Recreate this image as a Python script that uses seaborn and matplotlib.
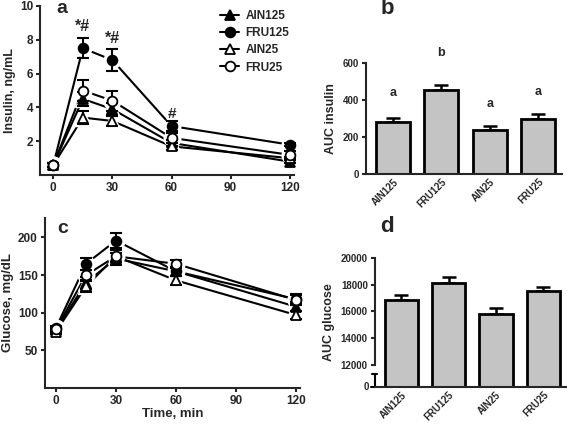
import pandas as pd
import numpy as np
import matplotlib.pyplot as plt
from matplotlib.lines import Line2D
import seaborn as sns

# data
times = [0, 15, 30, 60, 120]
groups = ['AIN125', 'FRU125', 'AIN25', 'FRU25']

ins_ain125 = [0.6, 4.5, 3.9, 1.9, 0.8]
ins_fru125 = [0.6, 7.5, 6.8, 2.9, 1.8]
ins_ain25 = [0.6, 3.4, 3.2, 1.7, 1.0]
ins_fru25 = [0.6, 5.0, 4.4, 2.2, 1.2]
ins_err_ain125 = [0.1, 0.4, 0.35, 0.2, 0.1]
ins_err_fru125 = [0.1, 0.6, 0.65, 0.3, 0.1]
ins_err_ain25 = [0.1, 0.4, 0.3, 0.2, 0.1]
ins_err_fru25 = [0.1, 0.6, 0.6, 0.3, 0.2]

glu_ain125 = [77, 140, 172, 155, 108]
glu_fru125 = [80, 165, 196, 155, 118]
glu_ain25 = [75, 135, 175, 143, 97]
glu_fru25 = [78, 150, 175, 165, 117]
glu_err_ain125 = [3, 8, 8, 6, 6]
glu_err_fru125 = [3, 8, 10, 6, 7]
glu_err_ain25 = [3, 7, 8, 6, 5]
glu_err_fru25 = [3, 7, 8, 5, 7]

auc_ins = [280, 452, 237, 298]
auc_ins_err = [25, 28, 20, 28]
auc_ins_letters = ['a', 'b', 'a', 'a']
auc_ins_letter_y = [438, 654, 378, 443]

auc_glu = [16850, 18150, 15850, 17500]
auc_glu_err = [400, 450, 400, 300]

insulin = [ins_ain125, ins_fru125, ins_ain25, ins_fru25]
insulin_err = [ins_err_ain125, ins_err_fru125, ins_err_ain25, ins_err_fru25]
glucose = [glu_ain125, glu_fru125, glu_ain25, glu_fru25]
glucose_err = [glu_err_ain125, glu_err_fru125, glu_err_ain25, glu_err_fru25]

# marker style per group
markers = {'AIN125': ('^', 'black'), 'FRU125': ('o', 'black'),
           'AIN25': ('^', 'white'), 'FRU25': ('o', 'white')}

sns.set_style('ticks')
plt.rcParams['font.family'] = ['Liberation Sans', 'DejaVu Sans']
plt.rcParams['font.weight'] = 'bold'
plt.rcParams['axes.labelweight'] = 'bold'
plt.rcParams['axes.linewidth'] = 1.5
plt.rcParams['xtick.major.width'] = 1.5
plt.rcParams['ytick.major.width'] = 1.5
plt.rcParams['xtick.major.size'] = 3
plt.rcParams['ytick.major.size'] = 3
plt.rcParams['xtick.major.pad'] = 2
plt.rcParams['ytick.major.pad'] = 2
plt.rcParams['xtick.labelsize'] = 8.5
plt.rcParams['ytick.labelsize'] = 8.5

fig = plt.figure(figsize=(5.67, 4.24), dpi=100)
ax_a = fig.add_axes([0.071, 0.587, 0.447, 0.399])
ax_b = fig.add_axes([0.645, 0.590, 0.347, 0.261])
ax_c = fig.add_axes([0.079, 0.085, 0.450, 0.401])
ax_d = fig.add_axes([0.661, 0.087, 0.339, 0.305])


def time_panel(ax, values, errors):
    rows = []
    for g, vals in zip(groups, values):
        for t, v in zip(times, vals):
            rows.append({'time': t, 'value': v, 'group': g})
    df = pd.DataFrame(rows)
    sns.lineplot(data=df, x='time', y='value', hue='group', palette=['black'] * 4,
                 legend=False, linewidth=1.5, ax=ax, zorder=1)
    # white halos to give the gaps around the points
    for g, vals in zip(groups, values):
        m, fc = markers[g]
        ax.plot(times, vals, linestyle='none', marker=m, markersize=12,
                color='white', zorder=2, clip_on=False)
    for g, vals, errs in zip(groups, values, errors):
        m, fc = markers[g]
        ax.errorbar(times, vals, yerr=errs, fmt='none', ecolor='black',
                    elinewidth=1.5, capsize=4, capthick=1.5, zorder=3, clip_on=False)
        ax.plot(times, vals, linestyle='none', marker=m, markersize=7,
                markerfacecolor=fc, markeredgecolor='black', markeredgewidth=1.3,
                zorder=4, clip_on=False)
    ax.set_xticks([0, 30, 60, 90, 120])
    sns.despine(ax=ax)


# panel a
time_panel(ax_a, insulin, insulin_err)
ax_a.set_xlim(-6.6, 122)
ax_a.set_ylim(0, 10)
ax_a.set_yticks([2, 4, 6, 8, 10])
ax_a.set_xlabel('')
ax_a.set_ylabel('Insulin, ng/mL', fontsize=9, labelpad=3)
ax_a.text(15, 8.8, '*#', ha='center', va='center', fontsize=11.5, fontweight='bold')
ax_a.text(30, 8.1, '*#', ha='center', va='center', fontsize=11.5, fontweight='bold')
ax_a.text(60, 3.6, '#', ha='center', va='center', fontsize=11, fontweight='bold')
ax_a.text(0.085, 0.985, 'a', transform=ax_a.transAxes, ha='center', va='center',
          fontsize=14, fontweight='bold')
handles = []
for g in groups:
    m, fc = markers[g]
    handles.append(Line2D([], [], color='black', linewidth=1.5, marker=m, markersize=7,
                          markerfacecolor=fc, markeredgecolor='black', markeredgewidth=1.3))
ax_a.legend(handles, groups, loc='upper right', frameon=False, fontsize=8.5,
            handlelength=1.6, handletextpad=0.5, labelspacing=0.45,
            bbox_to_anchor=(1.01, 1.02), borderaxespad=0.2)

# panel c
time_panel(ax_c, glucose, glucose_err)
ax_c.set_xlim(-5.6, 122)
ax_c.set_ylim(0, 226)
ax_c.set_yticks([50, 100, 150, 200])
ax_c.set_xlabel('Time, min', fontsize=9.5, labelpad=1)
ax_c.set_ylabel('Glucose, mg/dL', fontsize=9.5, labelpad=3)
ax_c.text(0.07, 0.94, 'c', transform=ax_c.transAxes, ha='center', va='center',
          fontsize=14, fontweight='bold')


def bar_panel(ax, vals, errs):
    sns.barplot(x=groups, y=vals, color='#c4c4c4', edgecolor='black', linewidth=2,
                width=0.7, ax=ax, zorder=2)
    ax.errorbar(range(len(groups)), vals, yerr=[np.zeros(len(errs)), errs], fmt='none',
                ecolor='black', elinewidth=1.8, capsize=5, capthick=1.8, zorder=1)
    ax.set_xlim(-0.56, 3.5)
    ax.tick_params(axis='x', labelsize=7, length=0)
    plt.setp(ax.get_xticklabels(), rotation=45, ha='right', rotation_mode='anchor',
             fontweight='bold')
    sns.despine(ax=ax)


# panel b
bar_panel(ax_b, auc_ins, auc_ins_err)
ax_b.set_ylim(0, 600)
ax_b.set_yticks([0, 200, 400, 600])
ax_b.set_ylabel('AUC insulin', fontsize=9, labelpad=4)
ax_b.tick_params(axis='y', labelsize=7)
for i, (lt, ly) in enumerate(zip(auc_ins_letters, auc_ins_letter_y)):
    ax_b.text(i, ly, lt, ha='center', va='center', fontsize=9, fontweight='bold',
              clip_on=False)
fig.text(387 / 567, 1 - 9 / 424, 'b', ha='center', va='center', fontsize=16,
         fontweight='bold')

# panel d (broken axis)
bar_panel(ax_d, auc_glu, auc_glu_err)
d_bottom = 10360
ax_d.set_ylim(d_bottom, 20005)
ax_d.set_yticks([12000, 14000, 16000, 18000, 20000])
ax_d.tick_params(axis='y', labelsize=7)
ax_d.spines['left'].set_bounds(12000, 20000)
ytr = ax_d.get_yaxis_transform()
# short lower axis piece with its own "0" tick
ax_d.plot([0, 0], [d_bottom, 11330], color='black', linewidth=1.5, transform=ytr,
          clip_on=False)
ax_d.plot([-0.012, 0.012], [11330, 11330], color='black', linewidth=1.5, transform=ytr,
          clip_on=False)
ax_d.plot([-0.02, 0], [d_bottom, d_bottom], color='black', linewidth=1.5, transform=ytr,
          clip_on=False)
ax_d.text(-0.03, d_bottom, '0', transform=ytr, ha='right', va='center', fontsize=7,
          fontweight='bold')
ax_d.set_ylabel('AUC glucose', fontsize=9, labelpad=4)
fig.text(387 / 567, 1 - 227 / 424, 'd', ha='center', va='center', fontsize=16,
         fontweight='bold')

plt.savefig('out.png', dpi=100)
